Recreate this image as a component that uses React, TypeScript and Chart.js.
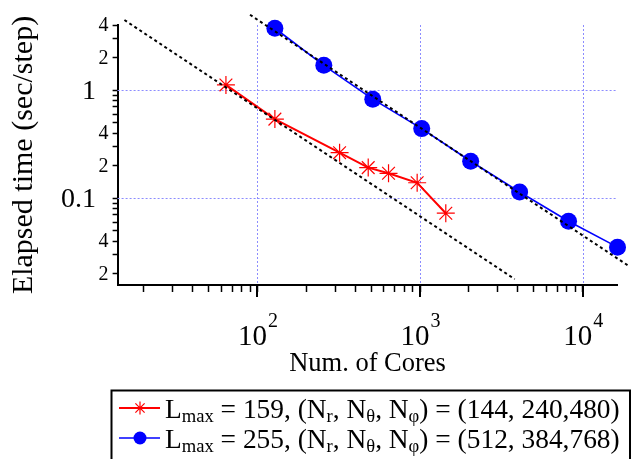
import React, { useEffect, useRef } from 'react';
import { Chart, registerables } from 'chart.js';

Chart.register(...registerables);

// ---- data ----
const coresA = [64, 128, 320, 480, 640, 960, 1440];
const timeA = [1.12, 0.54, 0.264, 0.192, 0.17, 0.139, 0.0726];

const coresB = [128, 256, 512, 1024, 2048, 4096, 8192, 16384];
const timeB = [3.75, 1.7, 0.826, 0.441, 0.22, 0.114, 0.0612, 0.0352];

// ideal-scaling (dotted) guide lines: end points
const idealAx = [15.2, 3820];
const idealAy = [4.47, 0.0178];
const idealBx = [90, 19500];
const idealBy = [5.0, 0.0232];

// axes
const xMin = 13.8;
const xMax = 16384;
const yMin = 0.0157;
const yMax = 4.02;
const xMajorValues = [100, 1000, 10000];
const xMajorExps = ['2', '3', '4'];
const xTickValues = [
  20, 30, 40, 50, 60, 70, 80, 90, 100,
  200, 300, 400, 500, 600, 700, 800, 900, 1000,
  2000, 3000, 4000, 5000, 6000, 7000, 8000, 9000, 10000,
];
const yTickValues = [
  0.02, 0.03, 0.04, 0.05, 0.06, 0.07, 0.08, 0.09, 0.1,
  0.2, 0.3, 0.4, 0.5, 0.6, 0.7, 0.8, 0.9, 1, 2, 3, 4,
];
const yLabelValues = [4, 2, 1, 0.4, 0.2, 0.1, 0.04, 0.02];
const yLabelTexts = ['4', '2', '1', '4', '2', '0.1', '4', '2'];
const yLabelBig = [false, false, true, false, false, true, false, false];
const yGridValues = [1, 0.1];

const xTitle = 'Num. of Cores';
const yTitle = 'Elapsed time (sec/step)';

const legendLmax = ['159', '255'];
const legendNr = ['144', '512'];
const legendNt = ['240', '384'];
const legendNp = ['480', '768'];

const RED = '#ff0000';
const BLUE = '#0000ff';
const FONT = '"Liberation Serif", "Times New Roman", serif';

type Part = { t: string; s: number; dy?: number };

function drawRich(ctx: CanvasRenderingContext2D, x: number, y: number, parts: Part[]) {
  let cx = x;
  for (const p of parts) {
    ctx.font = `${p.s}px ${FONT}`;
    ctx.fillText(p.t, cx, y + (p.dy || 0));
    cx += ctx.measureText(p.t).width;
  }
  return cx;
}

const decorPlugin = {
  id: 'decor',
  beforeDatasetsDraw(chart: any) {
    const { ctx, chartArea, scales } = chart;
    const xs = scales.x;
    const ys = scales.y;
    ctx.save();
    ctx.strokeStyle = '#8c8cff';
    ctx.lineWidth = 1;
    ctx.setLineDash([2, 2]);
    for (const v of xMajorValues) {
      const px = Math.round(xs.getPixelForValue(v)) + 0.5;
      ctx.beginPath();
      ctx.moveTo(px, chartArea.top);
      ctx.lineTo(px, chartArea.bottom);
      ctx.stroke();
    }
    for (const v of yGridValues) {
      const py = Math.round(ys.getPixelForValue(v)) + 0.5;
      ctx.beginPath();
      ctx.moveTo(chartArea.left, py);
      ctx.lineTo(chartArea.right, py);
      ctx.stroke();
    }
    ctx.restore();
  },
  afterDraw(chart: any) {
    const { ctx, chartArea, scales } = chart;
    const xs = scales.x;
    const ys = scales.y;
    ctx.save();
    ctx.fillStyle = '#000';
    ctx.strokeStyle = '#000';
    // longer major ticks on x
    ctx.lineWidth = 2;
    for (const v of xMajorValues) {
      const px = Math.round(xs.getPixelForValue(v));
      ctx.beginPath();
      ctx.moveTo(px, chartArea.bottom);
      ctx.lineTo(px, chartArea.bottom + 12);
      ctx.stroke();
    }
    // x tick labels 10^n
    ctx.textBaseline = 'alphabetic';
    ctx.textAlign = 'left';
    xMajorValues.forEach((v, i) => {
      const px = xs.getPixelForValue(v);
      ctx.font = `29px ${FONT}`;
      const w1 = ctx.measureText('10').width;
      ctx.font = `20px ${FONT}`;
      const w2 = ctx.measureText(xMajorExps[i]).width;
      const start = px - (w1 + w2) / 2;
      ctx.font = `29px ${FONT}`;
      ctx.fillText('10', start, 345);
      ctx.font = `20px ${FONT}`;
      ctx.fillText(xMajorExps[i], start + w1 + 1, 327);
    });
    // y tick labels
    ctx.textAlign = 'right';
    ctx.textBaseline = 'middle';
    yLabelValues.forEach((v, i) => {
      const py = ys.getPixelForValue(v);
      if (yLabelBig[i]) {
        ctx.font = `28px ${FONT}`;
        ctx.fillText(yLabelTexts[i], 96, py + 1);
      } else {
        ctx.font = `20px ${FONT}`;
        ctx.fillText(yLabelTexts[i], 108.5, py + 1);
      }
    });

    // legend
    ctx.lineWidth = 2;
    ctx.setLineDash([]);
    ctx.strokeStyle = '#000';
    ctx.strokeRect(111.5, 390.5, 518.5, 90);
    const rows = [408, 438];
    const colors = [RED, BLUE];
    rows.forEach((ry, i) => {
      ctx.strokeStyle = colors[i];
      ctx.lineWidth = i === 0 ? 2 : 1.5;
      ctx.beginPath();
      ctx.moveTo(119, ry);
      ctx.lineTo(160, ry);
      ctx.stroke();
      if (i === 0) {
        const r = 6.5;
        ctx.lineWidth = 1.2;
        ctx.beginPath();
        ctx.moveTo(140, ry - r);
        ctx.lineTo(140, ry + r);
        const d = r * Math.SQRT1_2;
        ctx.moveTo(140 - d, ry - d);
        ctx.lineTo(140 + d, ry + d);
        ctx.moveTo(140 - d, ry + d);
        ctx.lineTo(140 + d, ry - d);
        ctx.stroke();
      } else {
        ctx.fillStyle = BLUE;
        ctx.beginPath();
        ctx.arc(140, ry, 6.5, 0, Math.PI * 2);
        ctx.fill();
      }
      ctx.fillStyle = '#000';
      ctx.textAlign = 'left';
      ctx.textBaseline = 'alphabetic';
      const parts: Part[] = [
        { t: 'L', s: 27.4 },
        { t: 'max', s: 18.6, dy: 4 },
        { t: ` = ${legendLmax[i]}, (N`, s: 27.4 },
        { t: 'r', s: 18.6, dy: 4 },
        { t: ', N', s: 27.4 },
        { t: 'θ', s: 18.6, dy: 4 },
        { t: ', N', s: 27.4 },
        { t: 'φ', s: 18.6, dy: 4 },
        { t: `) = (${legendNr[i]}, ${legendNt[i]},${legendNp[i]})`, s: 27.4 },
      ];
      drawRich(ctx, 165, ry + 10, parts);
    });
    ctx.restore();
  },
};

export default function App() {
  const ref = useRef<HTMLCanvasElement | null>(null);

  useEffect(() => {
    if (!ref.current) return;
    const toXY = (xs: number[], ys: number[]) => xs.map((x, i) => ({ x, y: ys[i] }));
    const chart = new Chart(ref.current, {
      type: 'line',
      data: {
        datasets: [
          {
            data: toXY(idealAx, idealAy),
            borderColor: '#000',
            borderWidth: 2,
            borderDash: [3, 3],
            pointRadius: 0,
            clip: false as any,
          },
          {
            data: toXY(idealBx, idealBy),
            borderColor: '#000',
            borderWidth: 2,
            borderDash: [3, 3],
            pointRadius: 0,
            clip: false as any,
          },
          {
            data: toXY(coresB, timeB),
            borderColor: BLUE,
            backgroundColor: BLUE,
            borderWidth: 1.6,
            pointStyle: 'circle',
            pointRadius: 8.5,
            pointBorderWidth: 0,
            pointBackgroundColor: BLUE,
            clip: false as any,
          },
          {
            data: toXY(coresA, timeA),
            borderColor: RED,
            backgroundColor: RED,
            borderWidth: 2,
            pointStyle: 'star',
            pointRadius: 9,
            pointBorderWidth: 1.2,
            pointBorderColor: RED,
            clip: false as any,
          },
        ],
      },
      options: {
        animation: false,
        responsive: false,
        events: [],
        layout: { padding: { left: 0, top: 25, right: 14.5, bottom: 79 } },
        plugins: { legend: { display: false }, tooltip: { enabled: false } },
        scales: {
          x: {
            type: 'logarithmic',
            min: xMin,
            max: xMax,
            afterBuildTicks: (s: any) => {
              s.ticks = xTickValues.map((v) => ({ value: v }));
            },
            afterFit: (s: any) => {
              s.height = 95;
            },
            ticks: { display: false },
            grid: {
              display: true,
              drawOnChartArea: false,
              drawTicks: true,
              tickLength: 7,
              tickColor: '#000',
              tickWidth: 1.5,
            },
            border: { display: true, color: '#000', width: 2 },
            title: {
              display: true,
              text: xTitle,
              color: '#000',
              font: { family: FONT, size: 26.5 },
              padding: { top: 0, bottom: 0 },
            },
          },
          y: {
            type: 'logarithmic',
            min: yMin,
            max: yMax,
            afterBuildTicks: (s: any) => {
              s.ticks = yTickValues.map((v) => ({ value: v }));
            },
            afterFit: (s: any) => {
              s.width = 117.6;
            },
            ticks: { display: false },
            grid: {
              display: true,
              drawOnChartArea: false,
              drawTicks: true,
              tickLength: 5,
              tickColor: '#000',
              tickWidth: 1.5,
            },
            border: { display: true, color: '#000', width: 2 },
            title: {
              display: true,
              text: yTitle,
              color: '#000',
              font: { family: FONT, size: 30 },
              padding: { top: 6, bottom: 0 },
            },
          },
        },
      },
      plugins: [decorPlugin],
    });
    return () => chart.destroy();
  }, []);

  return (
    <div style={{ position: 'absolute', left: 0, top: 0, width: 632, height: 459, overflow: 'hidden', background: '#fff' }}>
      <canvas ref={ref} width={632} height={459} style={{ display: 'block', width: 632, height: 459 }} />
    </div>
  );
}
